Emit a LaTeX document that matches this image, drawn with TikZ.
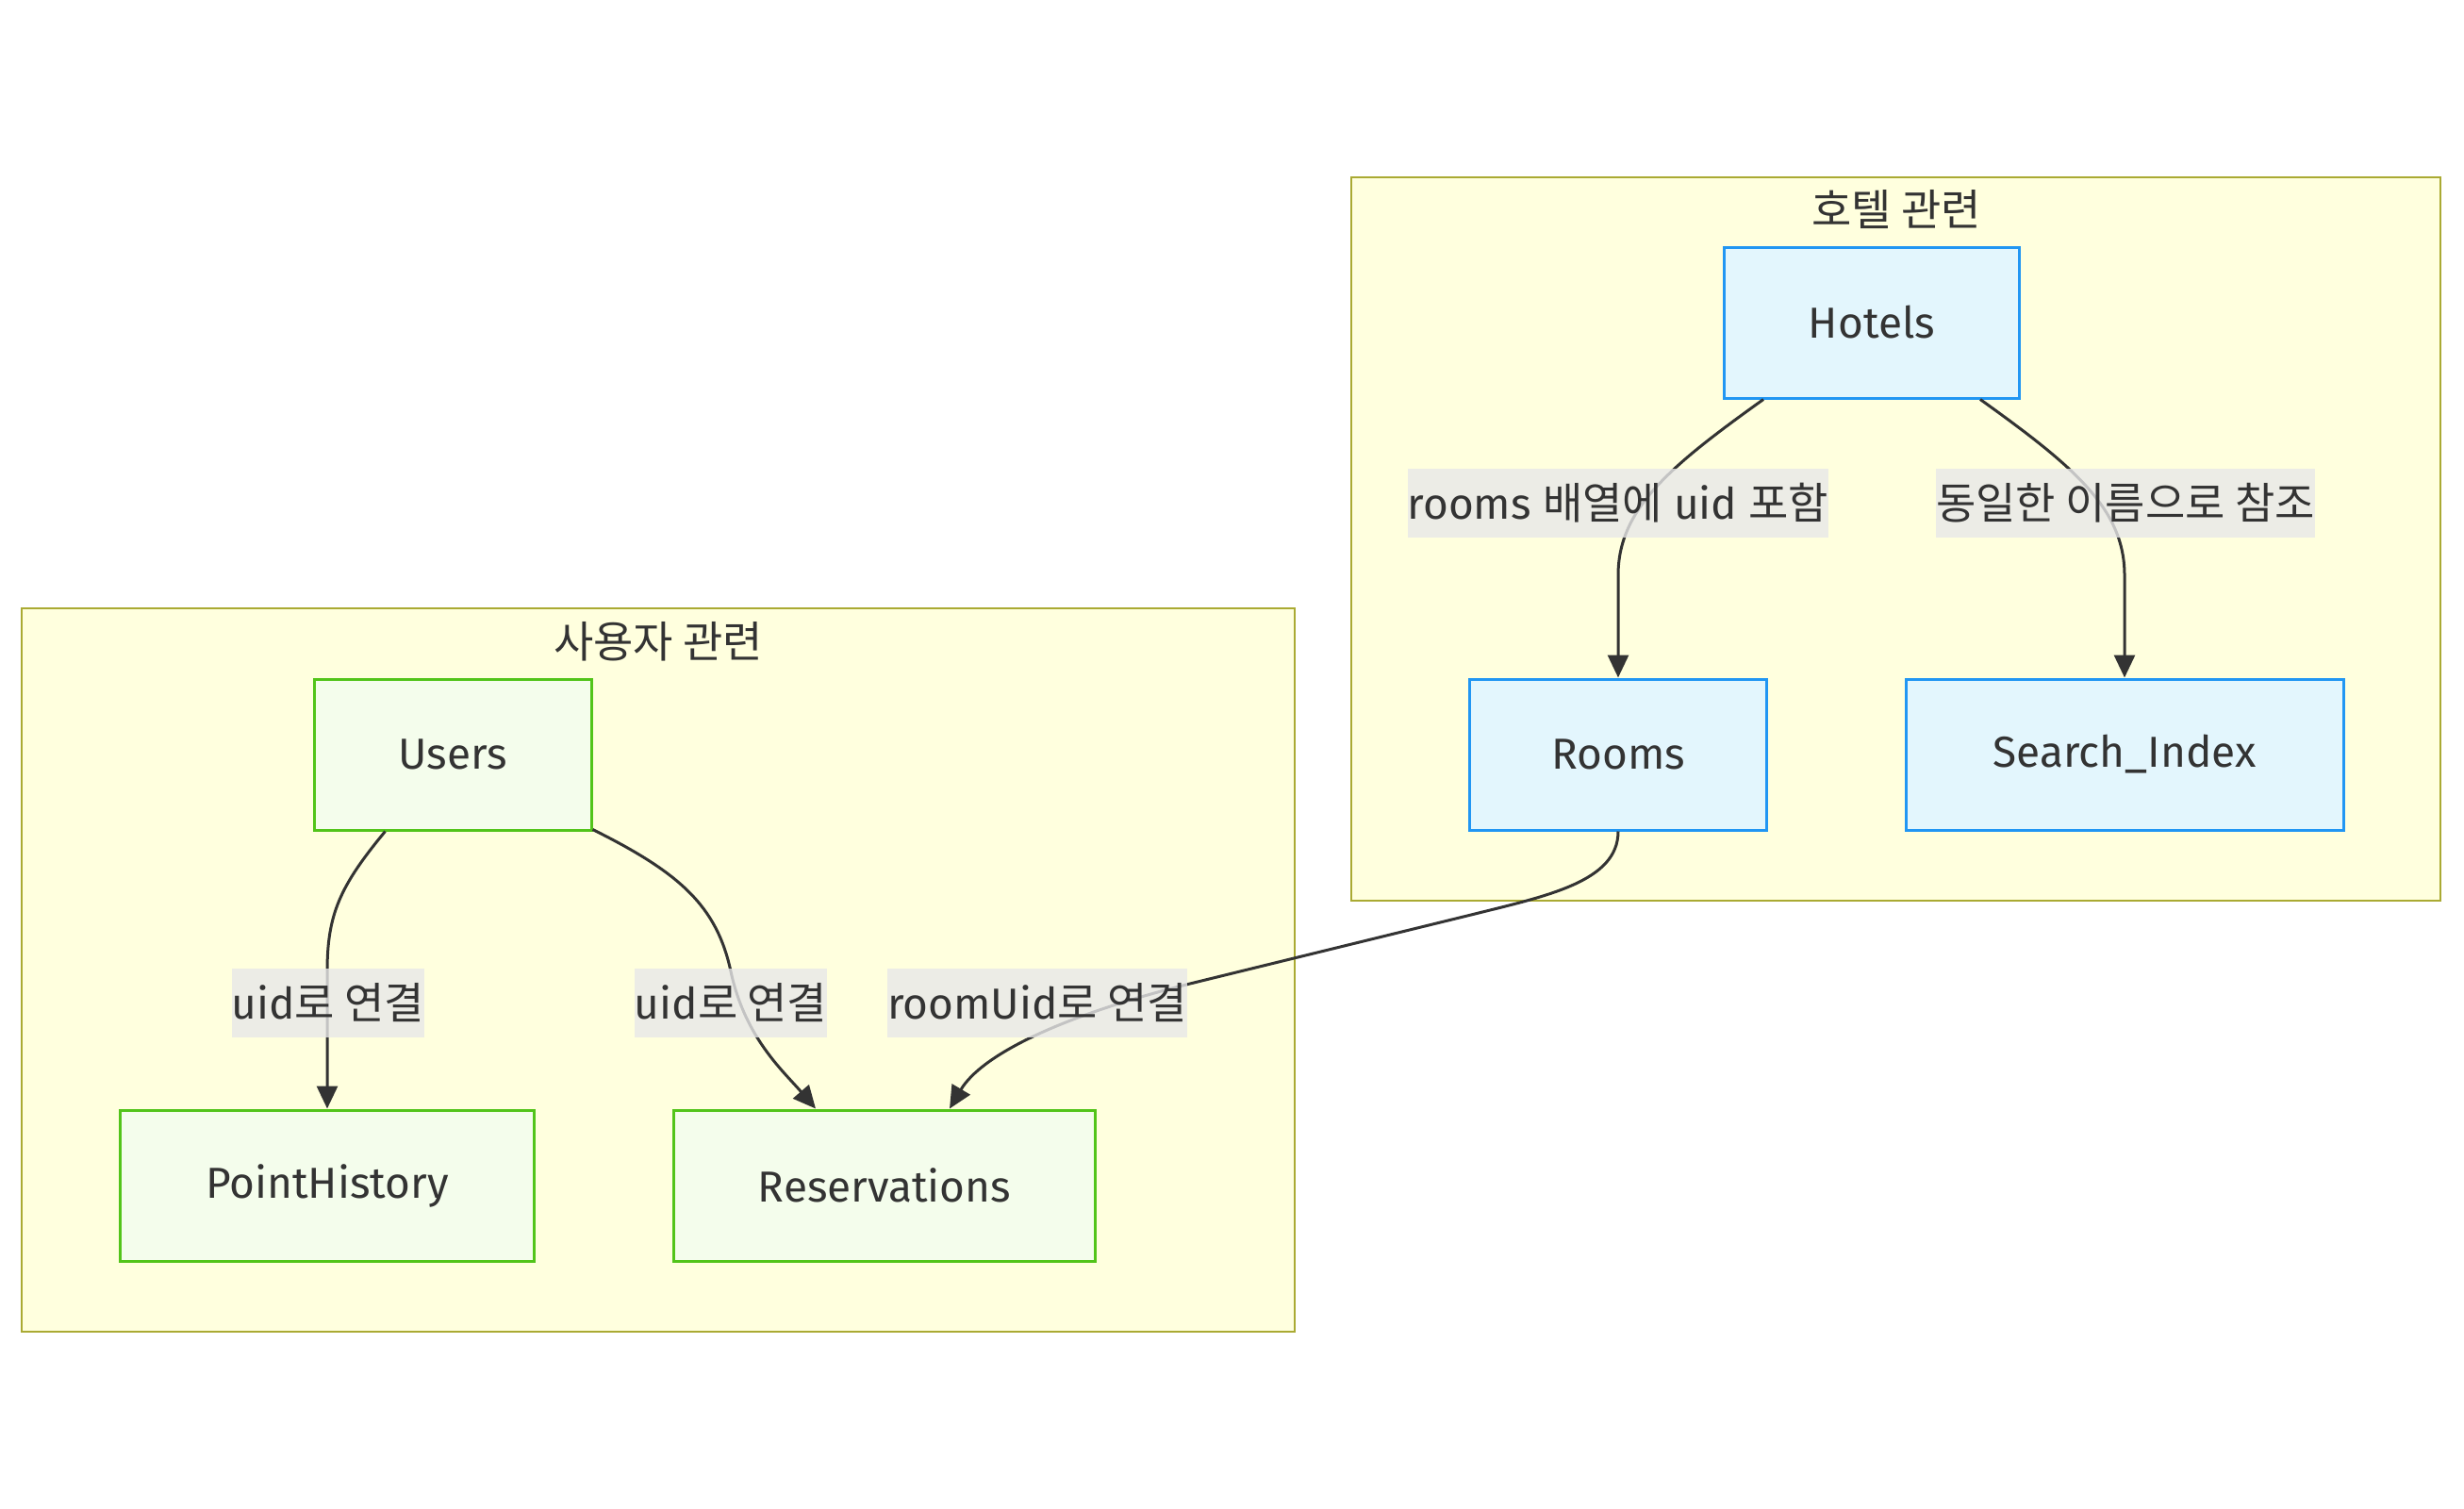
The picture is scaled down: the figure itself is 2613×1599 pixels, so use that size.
\documentclass[tikz,border=0pt]{standalone}
\usepackage{fontspec}
\setmainfont{Fira Sans}
\newfontfamily\kr{Noto Sans CJK KR}
\usetikzlibrary{arrows.meta}
\definecolor{clusterfill}{HTML}{FFFFDE}
\definecolor{clusterline}{HTML}{AAAA33}
\definecolor{hotelfill}{HTML}{E3F6FD}
\definecolor{hotelline}{HTML}{2196F3}
\definecolor{userfill}{HTML}{F4FDEC}
\definecolor{userline}{HTML}{52C41A}
\definecolor{labelgray}{HTML}{E8E8E8}
\definecolor{textgray}{HTML}{333333}
\definecolor{edgecolor}{HTML}{333333}
\tikzset{
  cluster/.style={draw=clusterline, fill=clusterfill, line width=2.5pt, rectangle, inner sep=0pt},
  clustertitle/.style={text=textgray, inner sep=0pt},
  hotelbox/.style={draw=hotelline, fill=hotelfill, line width=3pt, rectangle, minimum height=160pt, text=textgray},
  userbox/.style={draw=userline, fill=userfill, line width=3pt, rectangle, minimum height=160pt, text=textgray},
  edgelabel/.style={fill=labelgray, fill opacity=0.8, text opacity=1, inner xsep=0pt, inner ysep=0pt, minimum height=73pt, text=textgray},
  link/.style={draw=edgecolor, line width=3pt, -{Triangle[length=24pt,width=22pt]}},
}
\begin{document}
\begin{tikzpicture}[x=1pt,y=-1pt,font=\fontsize{46}{56}\selectfont]
\useasboundingbox (0,0) rectangle (2613,1599);
\fill[white] (0,0) rectangle (2613,1599);

% clusters
\node[cluster, minimum width=1155pt, minimum height=767pt] (hotelgrp) at (2010.5,571.5) {};
\node[cluster, minimum width=1350pt, minimum height=767pt] (usergrp) at (698,1028.5) {};
\node[clustertitle] (hoteltitle) at (2011,222) {\kr 호텔 관련};
\node[clustertitle] (usertitle) at (698,680) {\kr 사용자 관련};

% nodes
\node[hotelbox, minimum width=313pt] (hotels) at (1985,342) {Hotels};
\node[hotelbox, minimum width=315pt] (rooms) at (1716,800) {Rooms};
\node[hotelbox, minimum width=464pt] (search) at (2253,800) {Search\_Index};
\node[userbox, minimum width=294pt] (users) at (480,800) {Users};
\node[userbox, minimum width=439pt] (ph) at (347,1257) {PointHistory};
\node[userbox, minimum width=447pt] (res) at (938,1257) {Reservations};

% edges
\draw[link] ([xshift=43pt]hotels.south west) .. controls (1770,495) and (1716,540) .. (1716,610) -- (rooms.north);
\draw[link] ([xshift=-43pt]hotels.south east) .. controls (2200,495) and (2253,540) .. (2253,610) -- (search.north);
\draw[link] ([xshift=77pt]users.south west) .. controls (360,940) and (347,970) .. (347,1030) -- (ph.north);
\draw[link] ([yshift=2pt]users.south east) .. controls (720,925) and (760,960) .. (775,1030) .. controls (790,1100) and (830,1135) .. ([xshift=152pt]res.north west);
\draw[link] (rooms.south) .. controls (1716,935) and (1640,950) .. (1560,970) -- (1266,1042) .. controls (1120,1078) and (1040,1120) .. ([xshift=294pt]res.north west);

% edge labels
\node[edgelabel] (l1) at (1716,533) {rooms {\kr 배열에} uid {\kr 포함}};
\node[edgelabel] (l2) at (2254,533) {\kr 동일한 이름으로 참조};
\node[edgelabel] (l3) at (348,1063) {uid{\kr 로 연결}};
\node[edgelabel] (l4) at (775,1063) {uid{\kr 로 연결}};
\node[edgelabel] (l5) at (1100,1063) {roomUid{\kr 로 연결}};
\end{tikzpicture}
\end{document}
